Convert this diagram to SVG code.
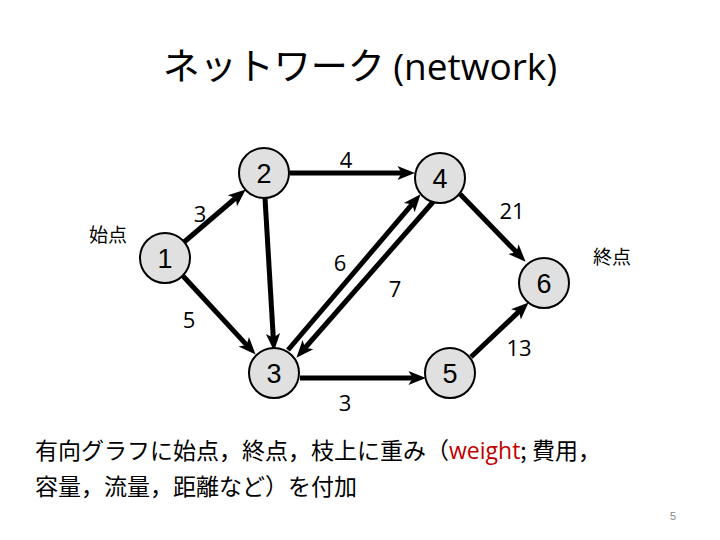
<svg xmlns="http://www.w3.org/2000/svg" width="720" height="540" viewBox="0 0 720 540">
<style>
.edge{stroke:#000;stroke-width:5;fill:none;marker-end:url(#arr)}
.node circle{fill:#e0e0e0;stroke:#000;stroke-width:2}
.node text{font-family:"Liberation Sans",Arial,sans-serif;font-size:27px;text-anchor:middle;fill:#000}
.lbl{font-family:"Open Sans","Liberation Sans",sans-serif;font-size:22px;fill:#000;text-anchor:middle}
.jp{font-family:"Noto Sans CJK JP",sans-serif;fill:#000}
</style>
<defs>
<marker id="arr" markerUnits="userSpaceOnUse" markerWidth="24" markerHeight="24" viewBox="-2 -8 22 16" refX="6" refY="0" orient="auto">
<path d="M0,-6.5 L16,0 L0,6.5 L4,0 z" fill="#000"/>
</marker>
</defs>
<rect width="720" height="540" fill="#fff"/>
<text x="360" y="80" text-anchor="middle" font-size="37" class="jp">ネットワーク <tspan font-family="Open Sans, Liberation Sans, sans-serif">(network)</tspan></text>
<g id="connectors">
<path class="edge" d="M183,243 L237.4,196.5"/>
<path class="edge" d="M290,173 L404,173"/>
<path class="edge" d="M265,198 L273.4,340"/>
<path class="edge" d="M183,276 L248.2,346.6"/>
<path class="edge" d="M288,350 L413.5,202.6"/>
<path class="edge" d="M433,202 L303.6,349.5"/>
<path class="edge" d="M460,194 L518,253.8"/>
<path class="edge" d="M300,378 L415,378"/>
<path class="edge" d="M471,357 L520.7,309.9"/>
</g>
<g id="edge-labels">
<text class="lbl" x="346" y="168">4</text>
<text class="lbl" x="200" y="222">3</text>
<text class="lbl" x="340" y="271">6</text>
<text class="lbl" x="395" y="297">7</text>
<text class="lbl" x="512" y="219">21</text>
<text class="lbl" x="189" y="328">5</text>
<text class="lbl" x="519" y="356">13</text>
<text class="lbl" x="345" y="411">3</text>
</g>
<g id="node1" class="node"><circle cx="165" cy="258" r="25"/><text x="165" y="268">1</text></g>
<g id="node2" class="node"><circle cx="264" cy="173" r="25"/><text x="264" y="183">2</text></g>
<g id="node3" class="node"><circle cx="274" cy="373" r="25"/><text x="274" y="383">3</text></g>
<g id="node4" class="node"><circle cx="440" cy="178" r="25"/><text x="440" y="188">4</text></g>
<g id="node5" class="node"><circle cx="450" cy="373" r="25"/><text x="450" y="383">5</text></g>
<g id="node6" class="node"><circle cx="544" cy="283" r="25"/><text x="544" y="293">6</text></g>
<text x="108" y="242" text-anchor="middle" font-size="19" class="jp">始点</text>
<text x="612" y="264" text-anchor="middle" font-size="19" class="jp">終点</text>
<text x="35" y="459" font-size="23" class="jp">有向グラフに始点，終点，枝上に重み（<tspan fill="#c00000" font-family="Open Sans, Liberation Sans, sans-serif">weight</tspan>; 費用，</text>
<text x="35" y="495" font-size="23" class="jp">容量，流量，距離など）を付加</text>
<text x="673" y="520" text-anchor="middle" font-size="11" fill="#888" font-family="Liberation Sans, sans-serif">5</text>
</svg>
